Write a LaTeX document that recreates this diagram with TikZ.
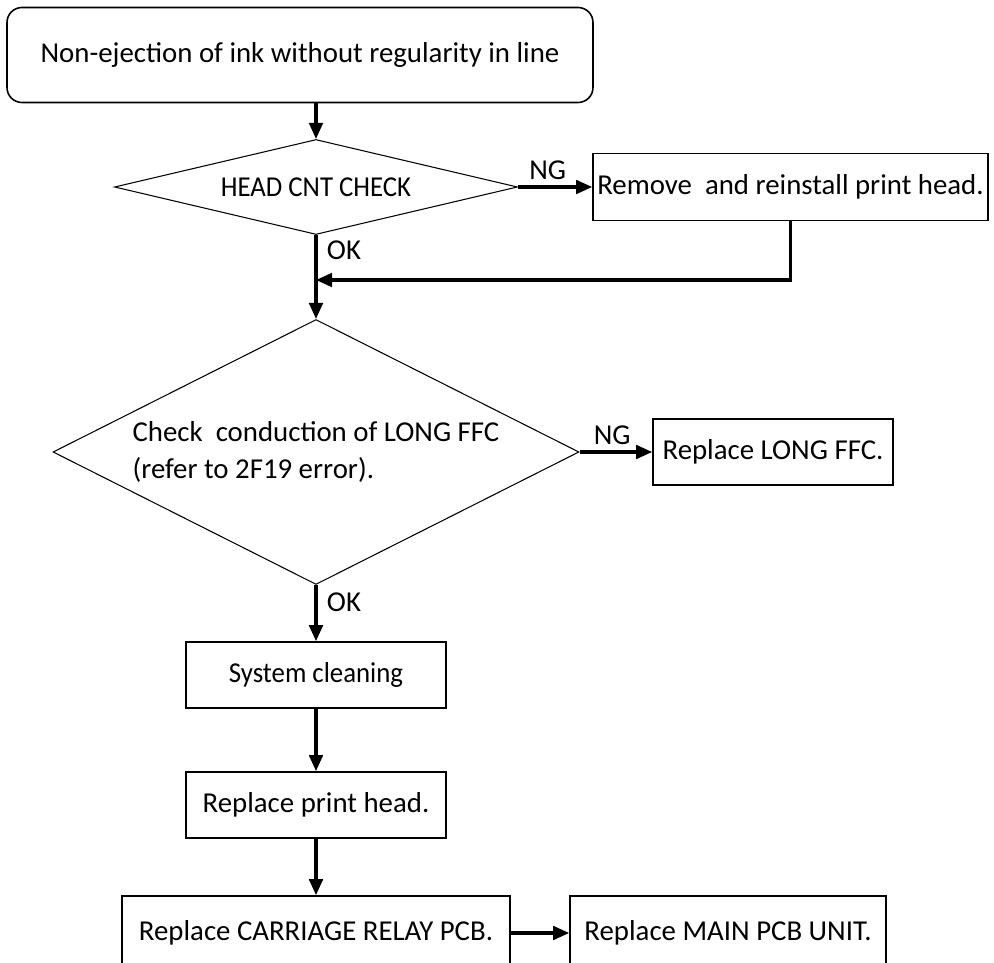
\documentclass[tikz,border=0pt]{standalone}
\usepackage{fontspec}
\usepackage{graphicx}
\setmainfont{Carlito}
\usetikzlibrary{arrows.meta,positioning,shapes.geometric}
\newcommand{\squeeze}[1]{\scalebox{0.93}[1]{#1}}

\begin{document}
\begin{tikzpicture}[>={Triangle[length=3.2mm,width=2.7mm]},node distance=2cm,on grid,
	font=\fontsize{16.4}{20.5}\selectfont]
	\tikzset{box/.style={draw,line width=0.9pt,inner sep=0pt,minimum height=1.32cm}}
	\tikzset{test/.style={draw,diamond,line width=0.6pt,inner sep=0pt}}
	\tikzset{flow/.style={->,line width=1.8pt}}
	\clip (0,0) rectangle (19.88,-19.26);
	\node[box,rounded corners=0.3cm,minimum width=11.72cm,minimum height=1.9cm] (start) at (6,-1.1) {Non-ejection of ink without regularity in line};
	\node[test,aspect=4.24,minimum width=8.06cm,minimum height=1.9cm] (cnt) [below right=2.64cm and 0.32cm of start] {\squeeze{HEAD CNT CHECK}};
	\node[box,minimum width=7.9cm,minimum height=1.34cm] (reinstall) [right=9.49cm of cnt] {Remove\ \ and reinstall print head.};
	\coordinate[below=1.86cm of cnt] (merge);
	\node[test,aspect=1.985,minimum width=10.52cm,minimum height=5.3cm,align=left] (ffc) [below=5.3cm of cnt] {Check\ \ conduction of LONG FFC\\(refer to 2F19 error).};
	\node[box,minimum width=4.8cm] (newffc) [right=9.14cm of ffc] {Replace LONG FFC.};
	\node[box,minimum width=5.2cm] (clean) [below=4.46cm of ffc] {\squeeze{System cleaning}};
	\node[box,minimum width=5.2cm] (newhead) [below=2.6cm of clean] {Replace print head.};
	\node[box,minimum width=7.76cm,minimum height=1.48cm] (relay) [below=2.56cm of newhead] {Replace CARRIAGE RELAY PCB.};
	\node[box,minimum width=6.32cm,minimum height=1.48cm] (mainpcb) [right=8.24cm of relay] {Replace MAIN PCB UNIT.};
	% main column
	\draw[flow] (cnt |- start.south) -- (cnt);
	\draw[flow] (cnt) -- node[right,xshift=2pt,pos=0.18] {OK} (ffc);
	\draw[flow] (ffc) -- node[right,xshift=2pt,pos=0.3] {OK} (clean);
	\draw[flow] (clean) -- (newhead);
	\draw[flow] (newhead) -- (relay);
	% NG branches
	\draw[flow] (cnt) -- node[above,pos=0.4] {NG} (reinstall);
	\draw[flow] (reinstall) |- (merge);
	\draw[flow] (ffc) -- node[above,pos=0.45] {NG} (newffc);
	\draw[flow] (relay) -- (mainpcb);
\end{tikzpicture}
\end{document}
